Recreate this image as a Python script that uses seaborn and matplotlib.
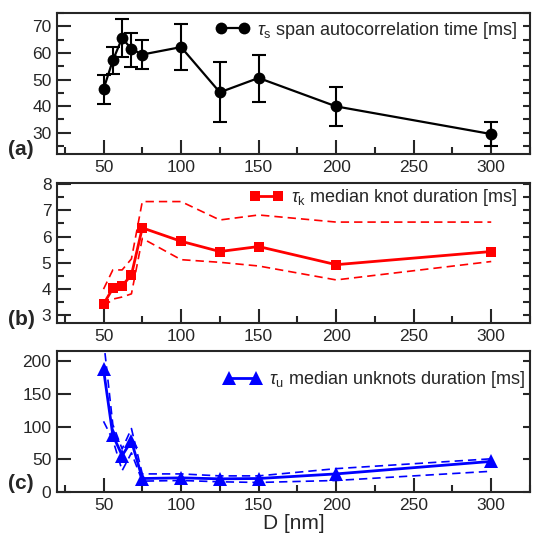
import numpy as np
import pandas as pd
import matplotlib
matplotlib.use("Agg")
import matplotlib.pyplot as plt
from matplotlib.ticker import MultipleLocator
import seaborn as sns

# D values [nm]
D = [50, 56, 62, 68, 75, 100, 125, 150, 200, 300]

# (a) span autocorrelation time
tau_s = [46.4, 57.2, 65.6, 61.5, 59.4, 62.2, 45.2, 50.6, 39.9, 29.5]
tau_s_hi = [51.7, 62.2, 72.6, 67.6, 64.9, 71.0, 56.5, 59.4, 47.2, 34.0]
tau_s_lo = [40.9, 52.2, 58.5, 54.7, 54.0, 53.5, 34.0, 41.5, 32.5, 25.0]

# (b) median knot duration with dashed bounds
tau_k = [3.43, 4.03, 4.13, 4.54, 6.33, 5.82, 5.43, 5.62, 4.93, 5.43]
tau_k_hi = [4.0, 4.73, 4.73, 5.15, 7.33, 7.33, 6.63, 6.82, 6.55, 6.55]
tau_k_lo = [3.33, 3.62, 3.7, 3.82, 5.93, 5.12, 5.02, 4.88, 4.35, 5.05]

# (c) median unknots duration with dashed bounds
tau_u = [187, 87, 56, 78, 21, 22, 20.5, 21, 28, 47]
tau_u_hi = [232, 103, 66, 97, 28, 28, 25, 25, 36, 51]
tau_u_lo = [108, 80, 33, 60, 17, 18, 16, 15, 18, 32]

x_ticks = [50, 100, 150, 200, 250, 300]

sns.set_style("ticks")
plt.rcParams['font.family'] = ['Liberation Sans', 'DejaVu Sans']
plt.rcParams['mathtext.fontset'] = 'custom'
plt.rcParams['mathtext.rm'] = 'Liberation Sans'
plt.rcParams['mathtext.it'] = 'Liberation Sans:italic'

fig = plt.figure(figsize=(5.36, 5.41), dpi=100)
left, width = 57 / 536, 473 / 536
ax_a = fig.add_axes([left, 0.7153, width, 0.2606])
ax_b = fig.add_axes([left, 0.4024, width, 0.2600])
ax_c = fig.add_axes([left, 0.0900, width, 0.2612])

df = pd.DataFrame({"D": D, "s": tau_s, "k": tau_k, "u": tau_u,
                   "k_hi": tau_k_hi, "k_lo": tau_k_lo,
                   "u_hi": tau_u_hi, "u_lo": tau_u_lo})

# panel a
err = [np.array(tau_s) - np.array(tau_s_lo), np.array(tau_s_hi) - np.array(tau_s)]
ax_a.errorbar(D, tau_s, yerr=err, fmt='none', ecolor='black', elinewidth=1.5,
              capsize=5, capthick=1.5, zorder=2)
sns.lineplot(data=df, x="D", y="s", ax=ax_a, color='black', lw=1.6, marker='o',
             markersize=8.5, markeredgecolor='black', markeredgewidth=0,
             label=r"$\tau_\mathrm{s}$ span autocorrelation time [ms]", zorder=3)
ax_a.set_ylim(22, 75)
ax_a.yaxis.set_major_locator(MultipleLocator(10))
ax_a.yaxis.set_minor_locator(MultipleLocator(5))

# panel b
dash = (0, (5, 3))
sns.lineplot(data=df, x="D", y="k_hi", ax=ax_b, color='red', lw=1.2, linestyle=dash)
sns.lineplot(data=df, x="D", y="k_lo", ax=ax_b, color='red', lw=1.2, linestyle=dash)
sns.lineplot(data=df, x="D", y="k", ax=ax_b, color='red', lw=2.0, marker='s',
             markersize=7.5, markeredgecolor='red', markeredgewidth=0,
             label=r"$\tau_\mathrm{k}$ median knot duration [ms]")
ax_b.set_ylim(2.7, 8.05)
ax_b.yaxis.set_major_locator(MultipleLocator(1))
ax_b.yaxis.set_minor_locator(MultipleLocator(0.5))

# panel c
sns.lineplot(data=df, x="D", y="u_hi", ax=ax_c, color='blue', lw=1.2, linestyle=dash)
sns.lineplot(data=df, x="D", y="u_lo", ax=ax_c, color='blue', lw=1.2, linestyle=dash)
sns.lineplot(data=df, x="D", y="u", ax=ax_c, color='blue', lw=2.0, marker='^',
             markersize=10.5, markeredgecolor='blue', markeredgewidth=0,
             label=r"$\tau_\mathrm{u}$ median unknots duration [ms]")
ax_c.set_ylim(0, 215)
ax_c.yaxis.set_major_locator(MultipleLocator(50))

legend_spots = {ax_a: (0.9725, 0.879, 1.85), ax_b: (0.9725, 0.891, 1.85),
                ax_c: (0.989, 0.795, 2.1)}

for ax in (ax_a, ax_b, ax_c):
    ax.set_xlim(20, 325)
    ax.set_xticks(x_ticks)
    ax.xaxis.set_minor_locator(MultipleLocator(25))
    ax.set_xlabel("")
    ax.set_ylabel("")
    for s in ax.spines.values():
        s.set_visible(True)
        s.set_linewidth(1.5)
    ax.tick_params(which='major', direction='in', length=10, width=1.5,
                   labelsize=12.5, right=True, top=False, pad=4)
    ax.tick_params(which='minor', direction='in', length=5, width=1.5,
                   right=True, top=False)
    for t in ax.yaxis.get_major_ticks():
        t.tick2line.set_markersize(5)
    lx, ly, hl = legend_spots[ax]
    ax.legend(loc='center right', bbox_to_anchor=(lx, ly), frameon=False,
              fontsize=13, numpoints=2, handlelength=hl, handletextpad=0.4,
              borderaxespad=0, borderpad=0)

ax_c.set_xlabel("D [nm]", fontsize=15, labelpad=1)

fig.text(0.039, 0.723, "(a)", fontsize=15, fontweight='bold', ha='center', va='center')
fig.text(0.040, 0.409, "(b)", fontsize=15, fontweight='bold', ha='center', va='center')
fig.text(0.039, 0.107, "(c)", fontsize=15, fontweight='bold', ha='center', va='center')

fig.savefig("out.png", dpi=100)
